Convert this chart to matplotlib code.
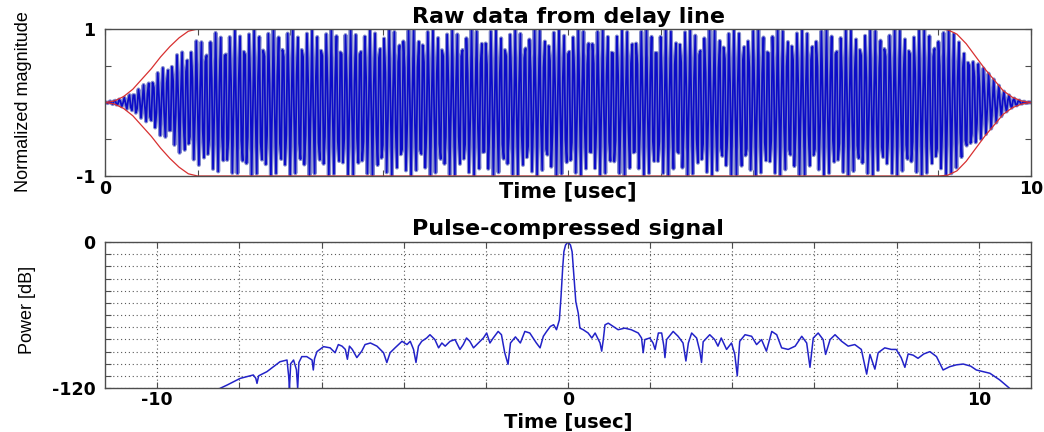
import numpy as np
import matplotlib
matplotlib.use("Agg")
import matplotlib.pyplot as plt

plt.rcParams["axes.unicode_minus"] = False

# ---- top panel: raw delay-line output ----
fs_mhz = 72.0                       # sample rate of the record
# red envelope (ideal taper), knots
red_t = [0, 0.1, 0.2, 0.3, 0.4, 0.5, 0.6, 0.7, 0.8, 0.9, 1.0,
         9.0, 9.1, 9.2, 9.3, 9.4, 9.5, 9.6, 9.7, 9.8, 9.9, 10.0]
red_v = [0, 0.02, 0.08, 0.18, 0.32, 0.46, 0.62, 0.76, 0.88, 0.97, 1.0,
         1.0, 0.99, 0.93, 0.80, 0.63, 0.46, 0.31, 0.16, 0.07, 0.02, 0]
# outer amplitude of the blue record
amp_t = [0, 0.2, 0.4, 0.6, 0.8, 1.0, 1.2, 1.5,
         9.0, 9.1, 9.2, 9.3, 9.4, 9.5, 9.6, 9.7, 9.8, 9.9, 10.0]
amp_v = [0, 0.06, 0.22, 0.45, 0.68, 0.85, 0.95, 1.0,
         1.0, 0.99, 0.93, 0.80, 0.63, 0.46, 0.31, 0.16, 0.07, 0.02, 0]
# carrier offset from fs/4 (MHz)
beat_t = [0, 2, 4, 6, 8, 8.5, 9.0, 9.3, 9.6, 10.0]
beat_v = [1.3, 1.2, 1.1, 1.05, 1.0, 0.93, 0.86, 0.55, 0.35, 0.3]

# ---- bottom panel: pulse-compressed signal (dB) ----
pc_t = [-8.8, -8.47, -8.30, -8.14, -7.98, -7.82, -7.66, -7.60, -7.57, -7.53,
        -7.49, -7.33, -7.17, -7.01, -6.84, -6.80, -6.78, -6.75, -6.68, -6.61,
        -6.58, -6.55, -6.48, -6.36, -6.23, -6.20, -6.17, -6.11, -5.95, -5.79,
        -5.67, -5.59, -5.50, -5.42, -5.37, -5.32, -5.25, -5.14, -5.02, -4.94,
        -4.81, -4.65, -4.49, -4.41, -4.33, -4.21, -4.04, -3.92, -3.84, -3.76,
        -3.70, -3.64, -3.56, -3.44, -3.36, -3.24, -3.15, -3.07, -2.99, -2.87,
        -2.75, -2.63, -2.55, -2.47, -2.39, -2.30, -2.18, -2.06, -1.98, -1.90,
        -1.82, -1.70, -1.62, -1.54, -1.46, -1.40, -1.28, -1.16, -1.05, -0.93,
        -0.85, -0.77, -0.68, -0.60, -0.52, -0.43, -0.35, -0.28, -0.21, -0.17,
        -0.13, -0.10, -0.06, 0.0, 0.06, 0.10, 0.13, 0.19, 0.25, 0.29,
        0.37, 0.49, 0.58, 0.66, 0.78, 0.82, 0.86, 0.90, 0.98, 1.10,
        1.22, 1.38, 1.54, 1.71, 1.79, 1.83, 1.87, 1.99, 2.07, 2.12,
        2.20, 2.28, 2.33, 2.36, 2.40, 2.56, 2.68, 2.80, 2.87, 2.93,
        3.01, 3.13, 3.21, 3.25, 3.29, 3.45, 3.57, 3.65, 3.73, 3.86,
        3.98, 4.06, 4.12, 4.18, 4.31, 4.47, 4.59, 4.71, 4.83, 4.96,
        5.08, 5.20, 5.36, 5.53, 5.69, 5.81, 5.89, 5.97, 6.09, 6.21,
        6.27, 6.38, 6.50, 6.66, 6.82, 6.98, 7.14, 7.27, 7.35, 7.47,
        7.55, 7.71, 7.87, 7.99, 8.11, 8.20, 8.28, 8.40, 8.52, 8.66,
        8.81, 8.97, 9.13, 9.29, 9.45, 9.62, 9.80, 9.94, 10.27, 10.51,
        10.75, 10.9]
pc_db = [-128, -120.3, -117.6, -114.8, -112.1, -110.7, -109.3, -112, -116.2, -110,
         -109.3, -106.6, -102.5, -98.4, -97.0, -110, -120.3, -100, -97.0, -105,
         -120.3, -99, -94.2, -94.2, -97, -105.2, -96, -90.1, -86.0, -87.0,
         -91, -84.3, -85.6, -88.3, -96.4, -85.6, -88.3, -95, -89.7, -84.3,
         -83, -85.6, -91, -99.1, -91, -87, -81.6, -84.3, -81.6, -88.3,
         -99, -85.6, -81.6, -78.9, -76.2, -80.2, -87, -83, -85.6, -81.6,
         -80.2, -88.3, -84.3, -78.9, -81.6, -87, -83, -78.9, -74.8, -83,
         -78.9, -73.5, -76.2, -91, -100.5, -83, -78, -83, -73.5, -74.8,
         -78.9, -83, -87, -77.5, -73.5, -69.4, -68, -72.1, -64, -45,
         -21.6, -8, -2.5, 0, -2.5, -8, -21.6, -49, -58.6, -70.8,
         -72.1, -74.8, -78.9, -74.8, -83, -89.7, -80, -68.1, -66.7, -69.4,
         -72.1, -70.8, -72.1, -74.8, -78.9, -91, -80.2, -78.9, -83, -88.3,
         -74.8, -74.8, -85, -95, -80.2, -73.5, -77.5, -83, -97.8, -83,
         -74.8, -78.9, -90, -99, -82, -76.2, -80.2, -85.6, -78.9, -88.3,
         -83, -92.4, -110, -81.6, -76.2, -77.5, -84.3, -80.2, -89.7, -73.5,
         -76.2, -87, -88.3, -85.6, -77.5, -83, -103, -78.9, -74.8, -80.2,
         -92.4, -80.2, -76.2, -81.6, -85.6, -84.3, -88.3, -108.6, -92.4, -104.5,
         -91, -87, -88.3, -88.3, -95, -103, -92, -93, -95.6, -92,
         -90.1, -94.2, -105.2, -102.5, -101, -100.3, -102, -105.2, -107.9, -113.4,
         -120.3, -125]

W, H = 1044, 432
fig = plt.figure(figsize=(W / 100, H / 100), dpi=100)
ax1 = fig.add_axes([105 / W, 1 - 176 / H, 926 / W, 147 / H])
ax2 = fig.add_axes([105 / W, 1 - 388 / H, 926 / W, 146 / H])

hfont = dict(family="DejaVu Sans", weight="bold")
vfont = dict(family="Liberation Sans")

# sampled record: carrier just off fs/4 so the samples beat visibly
t_raw = np.arange(0, 10 + 1e-9, 1 / fs_mhz)
amp = np.interp(t_raw, amp_t, amp_v)
delta = np.interp(t_raw, beat_t, beat_v)
theta = 2 * np.pi * np.cumsum(delta) / fs_mhz
theta -= np.interp(8.28, t_raw, theta) % (np.pi / 2)
raw = amp * np.cos(np.pi / 2 * np.arange(len(t_raw)) + theta)

# light halo under a dark core, like the smeared original
ax1.plot(t_raw, raw, color="#858dcc", lw=2.9)
ax1.plot(t_raw, raw, color="#0c0cc8", lw=1.3)
ax1.plot(red_t, red_v, color="#d83030", lw=0.9)
ax1.plot(red_t, -np.array(red_v), color="#d83030", lw=0.9)
ax1.set_xlim(0, 10)
ax1.set_ylim(-1, 1)
ax1.set_xticks(range(0, 11))
ax1.set_xticklabels(["0"] + [""] * 9 + ["10"])
ax1.set_yticks([-1, -0.5, 0, 0.5, 1])
ax1.set_yticklabels(["-1", "", "", "", "1"])
ax1.set_title("Raw data from delay line", fontsize=16, pad=4, **hfont)

ax2.plot(pc_t, pc_db, color="#2222c8", lw=1.1)
ax2.set_xlim(-11.27, 11.27)
ax2.set_ylim(-120, 0)
ax2.set_xticks(range(-10, 11, 2))
ax2.set_xticklabels(["-10", "", "", "", "", "0", "", "", "", "", "10"])
ax2.set_yticks(range(-120, 1, 10))
ax2.set_yticklabels(["-120"] + [""] * 11 + ["0"])
ax2.grid(True, color="0.35", linestyle=(0, (1, 2.5)), lw=0.8)
ax2.set_title("Pulse-compressed signal", fontsize=16, pad=5, **hfont)

for ax, xpad in ((ax1, 3), (ax2, 2.5)):
    for s in ax.spines.values():
        s.set_color("0.3")
        s.set_linewidth(1.0)
    ax.tick_params(direction="in", length=4, width=0.8, color="0.3",
                   top=True, right=True, labelsize=12.5)
    ax.tick_params(axis="x", pad=xpad)
    ax.tick_params(axis="y", pad=7)
    for lab in ax.get_xticklabels() + ax.get_yticklabels():
        lab.set_fontfamily("DejaVu Sans")
        lab.set_fontweight("bold")

fig.text(568 / W, 1 - 181 / H, "Time [usec]", ha="center", va="top",
         fontsize=15, **hfont)
fig.text(568 / W, 1 - 428 / H, "Time [usec]", ha="center", va="baseline",
         fontsize=14, **hfont)
fig.text(24 / W, 1 - 102 / H, "Normalized magnitude", rotation=90,
         ha="center", va="center", fontsize=13, **vfont)
fig.text(27 / W, 1 - 310 / H, "Power [dB]", rotation=90,
         ha="center", va="center", fontsize=13, **vfont)

fig.savefig("out.png", dpi=100)
